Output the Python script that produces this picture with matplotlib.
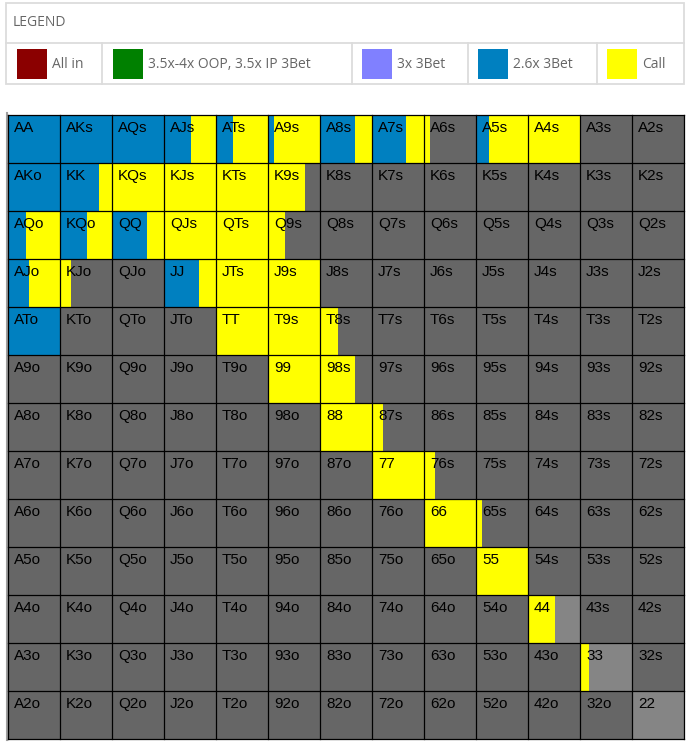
import matplotlib.pyplot as plt
from matplotlib.patches import Rectangle

ranks = ['A', 'K', 'Q', 'J', 'T', '9', '8', '7', '6', '5', '4', '3', '2']

# share of each hand played as 2.6x 3Bet (blue)
bet_26x = {
    'AA': 1.0, 'AKs': 1.0, 'AQs': 1.0, 'AJs': 0.51, 'ATs': 0.33, 'A9s': 0.10,
    'A8s': 0.66, 'A7s': 0.65, 'A5s': 0.25,
    'AKo': 1.0, 'KK': 0.74,
    'AQo': 0.34, 'KQo': 0.52, 'QQ': 0.67,
    'AJo': 0.40, 'JJ': 0.67,
    'ATo': 1.0,
}

# share played as a call (yellow)
call = {
    'AJs': 0.49, 'ATs': 0.67, 'A9s': 0.90, 'A8s': 0.34, 'A7s': 0.35, 'A6s': 0.10,
    'A5s': 0.75, 'A4s': 1.0,
    'KK': 0.26, 'KQs': 1.0, 'KJs': 1.0, 'KTs': 1.0, 'K9s': 0.70,
    'AQo': 0.66, 'KQo': 0.48, 'QQ': 0.33, 'QJs': 1.0, 'QTs': 1.0, 'Q9s': 0.33,
    'AJo': 0.60, 'KJo': 0.20, 'JJ': 0.33, 'JTs': 1.0, 'J9s': 1.0,
    'TT': 1.0, 'T9s': 1.0, 'T8s': 0.34,
    '99': 1.0, '98s': 0.66,
    '88': 1.0, '87s': 0.20,
    '77': 1.0, '76s': 0.20,
    '66': 1.0, '65s': 0.10,
    '55': 1.0,
    '44': 0.51,
    '33': 0.17,
}

# hands whose remainder is shown in the lighter grey
light_rest = ['44', '33', '22']

legend_labels = ['All in', '3.5x-4x OOP, 3.5x IP 3Bet', '3x 3Bet', '2.6x 3Bet', 'Call']
legend_colors = ['#8b0000', '#008000', '#8080ff', '#0080c0', '#ffff00']

BLUE = '#0080c0'
YELLOW = '#ffff00'
FOLD = '#666666'
FOLD_LIGHT = '#858585'


def hand_name(r, c):
    if r == c:
        return ranks[r] + ranks[c]
    if c > r:
        return ranks[r] + ranks[c] + 's'
    return ranks[c] + ranks[r] + 'o'


W, H = 698, 747
fig = plt.figure(figsize=(W / 100, H / 100), dpi=100)
plt.rcParams['font.family'] = ['Liberation Sans', 'DejaVu Sans']

# ---- legend box (pixel coordinates) ----
lg = fig.add_axes([0, 0, 1, 1])
lg.set_xlim(0, W)
lg.set_ylim(H, 0)
lg.axis('off')
edge = '#dcdcdc'
lg.add_patch(Rectangle((6.3, 2.7), 678, 81.6, fill=False, ec=edge, lw=1.3))
lg.plot([6.3, 684.3], [43.3, 43.3], color=edge, lw=1.3)
for x in [102.3, 351.7, 467.7, 596.7]:
    lg.plot([x, x], [43.3, 84.3], color=edge, lw=1.3)
lg.text(12.3, 23, 'LEGEND', fontsize=10, color='#666666', family='Open Sans',
        va='center', ha='left')
sw_x = [17, 113, 362, 478, 607]
for x, lab, col in zip(sw_x, legend_labels, legend_colors):
    lg.add_patch(Rectangle((x, 49), 30, 30, color=col, lw=0))
    lg.text(x + 35, 64, lab, fontsize=10, color='#666666', family='Open Sans',
            va='center', ha='left')
# thin grey rule left of the grid
lg.plot([7, 7], [113, 740], color='#a0a0a0', lw=1.5)

# ---- hand grid ----
left, right, top, bottom = 8.3, 684.3, 114.5, 739
ax = fig.add_axes([left / W, 1 - bottom / H, (right - left) / W, (bottom - top) / H])
ax.set_xlim(0, 13)
ax.set_ylim(13, 0)
ax.axis('off')

for r in range(13):
    for c in range(13):
        h = hand_name(r, c)
        b = bet_26x.get(h, 0)
        y = call.get(h, 0)
        rest = max(0.0, 1 - b - y)
        rest_col = FOLD_LIGHT if h in light_rest else FOLD
        ax.barh(r + 0.5, b, left=c, height=1, color=BLUE, lw=0)
        ax.barh(r + 0.5, y, left=c + b, height=1, color=YELLOW, lw=0)
        ax.barh(r + 0.5, rest, left=c + b + y, height=1, color=rest_col, lw=0)
        ax.text(c + 0.11, r + 0.28, h, fontsize=11, color='black',
                ha='left', va='center')

for i in range(14):
    ax.plot([i, i], [0, 13], color='black', lw=0.9, clip_on=False)
    ax.plot([0, 13], [i, i], color='black', lw=0.9, clip_on=False)

fig.savefig('out.png', dpi=100)
